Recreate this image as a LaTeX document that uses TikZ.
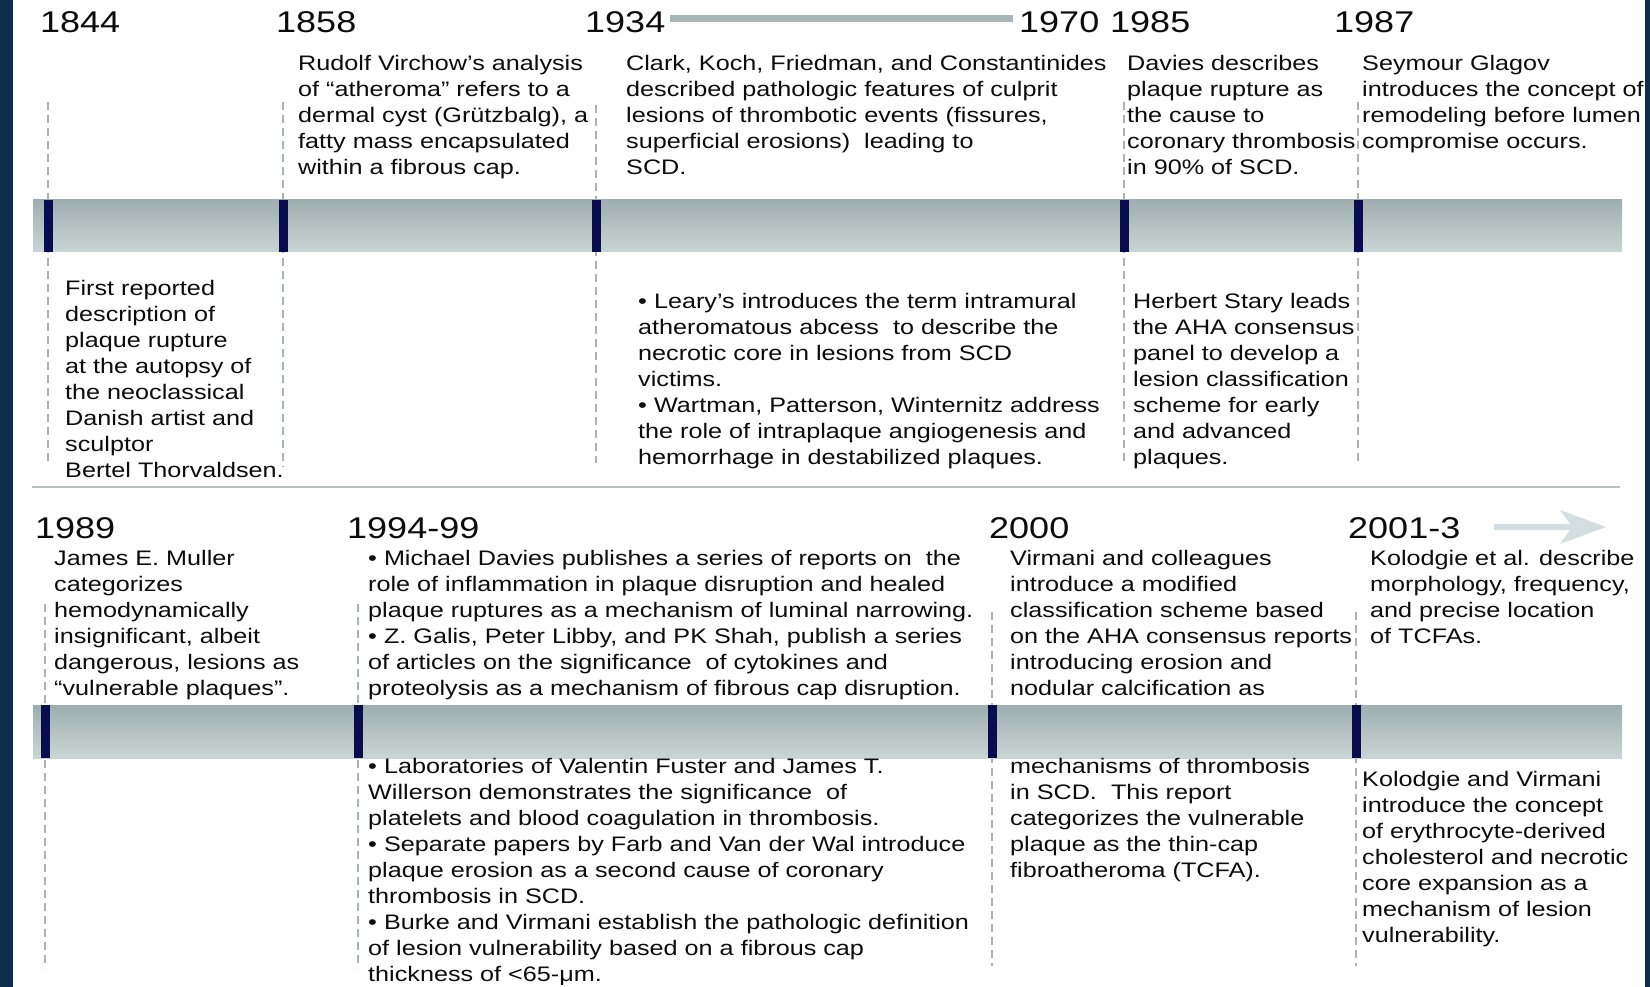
\documentclass[tikz,border=0pt]{standalone}
\usepackage{fontspec}
\setmainfont{Liberation Sans}[FakeStretch=1.2]
\definecolor{navyb}{RGB}{13,45,77}
\definecolor{mk}{RGB}{10,12,80}
\definecolor{bartop}{RGB}{158,174,174}
\definecolor{barbot}{RGB}{202,214,214}
\definecolor{dashgray}{RGB}{170,178,178}
\definecolor{sepgray}{RGB}{182,194,194}
\definecolor{gapgray}{RGB}{168,184,184}
\definecolor{arrowgray}{RGB}{212,222,224}
\definecolor{txt}{RGB}{12,12,12}
\begin{document}
\begin{tikzpicture}[x=1pt,y=-1pt,
  desc/.style={anchor=north west,inner sep=0pt,align=left,text=txt,font=\fontsize{21}{26}\selectfont},
  yr/.style={anchor=base west,inner sep=0pt,text=txt,font=\fontsize{30}{34}\selectfont},
  tickmark/.style={fill=mk,draw=none},
  guide/.style={draw=dashgray,line width=2.6pt,dash pattern=on 8pt off 5pt},
  timebar/.style={draw=none,top color=bartop,bottom color=barbot},
  sepline/.style={draw=sepgray,line width=2.5pt},
  gapline/.style={draw=gapgray,line width=7pt},
]
\useasboundingbox (0,0) rectangle (1650,987);
\fill[white] (0,0) rectangle (1650,987);
\fill[navyb] (0,0) rectangle (13,987);
\fill[navyb] (1645,0) rectangle (1650,987);

% ---------- dashed guide lines, row 1
\coordinate (ga1) at (48,102);   \coordinate (ga2) at (48,466);
\coordinate (gb1) at (283,102);  \coordinate (gb2) at (283,467);
\coordinate (gc1) at (596,105);  \coordinate (gc2) at (596,463);
\coordinate (gd1) at (1124,102); \coordinate (gd2) at (1124,463);
\coordinate (ge1) at (1358,102); \coordinate (ge2) at (1358,463);
\draw[guide] (ga1) -- (ga2);
\draw[guide] (gb1) -- (gb2);
\draw[guide] (gc1) -- (gc2);
\draw[guide] (gd1) -- (gd2);
\draw[guide] (ge1) -- (ge2);
% ---------- dashed guide lines, row 2
\coordinate (gf1) at (45,604);   \coordinate (gf2) at (45,968);
\coordinate (gg1) at (358,604);  \coordinate (gg2) at (358,968);
\coordinate (gh1) at (992,612);  \coordinate (gh2) at (992,966);
\coordinate (gi1) at (1356,612); \coordinate (gi2) at (1356,966);
\draw[guide] (gf1) -- (gf2);
\draw[guide] (gg1) -- (gg2);
\draw[guide] (gh1) -- (gh2);
\draw[guide] (gi1) -- (gi2);

% ---------- bars
\shade[timebar] (33,200) rectangle (1622,252);
\shade[timebar] (33,705) rectangle (1622,758);
% markers row 1
\fill[tickmark] (43.5,200) rectangle (52.5,252);
\fill[tickmark] (278.5,200) rectangle (287.5,252);
\fill[tickmark] (591.5,200) rectangle (600.5,252);
\fill[tickmark] (1119.5,200) rectangle (1128.5,252);
\fill[tickmark] (1353.5,200) rectangle (1362.5,252);
% markers row 2
\fill[tickmark] (40.5,705) rectangle (49.5,758);
\fill[tickmark] (353.5,705) rectangle (362.5,758);
\fill[tickmark] (987.5,705) rectangle (996.5,758);
\fill[tickmark] (1351.5,705) rectangle (1360.5,758);

% separator
\coordinate (s1) at (32,487); \coordinate (s2) at (1620,487);
\draw[sepline] (s1) -- (s2);

% ---------- years
\node[yr] (y1844) at (40,33) {1844};
\node[yr] (y1858) at (276,33) {1858};
\node[yr] (y1934) at (585,33) {1934};
\node[yr] (y1970) at (1019,33) {1970};
\node[yr] (y1985) at (1110,33) {1985};
\node[yr] (y1987) at (1334,33) {1987};
\node[yr] (y1989) at (35,538) {1989};
\node[yr] (y1994) at (347,538) {1994-99};
\node[yr] (y2000) at (989,538) {2000};
\node[yr] (y2001) at (1348,538) {2001-3};

\coordinate (gl1) at (670,19); \coordinate (gl2) at (1013,19);
\draw[gapline] (gl1) -- (gl2);

% arrow after 2001-3
\fill[arrowgray] (1494,524) -- (1570,524) -- (1560,510) -- (1606,527)
  -- (1560,544) -- (1570,530) -- (1494,530) -- cycle;

% ---------- row 1 texts above bar
\node[desc] (t1858) at (298,51.8) {\strut Rudolf Virchow’s analysis\\of “atheroma” refers to a\\dermal cyst (Grützbalg), a\\fatty mass encapsulated\\within a fibrous cap.};
\node[desc] (t1934) at (626,51.8) {\strut Clark, Koch, Friedman, and Constantinides\\described pathologic features of culprit\\lesions of thrombotic events (fissures,\\superficial erosions)\ \ leading to\\SCD.};
\node[desc] (t1985) at (1127,51.8) {\strut Davies describes\\plaque rupture as\\the cause to\\coronary thrombosis\\in 90\% of SCD.};
\node[desc] (t1987) at (1362,51.8) {\strut Seymour Glagov\\introduces the concept of\\remodeling before lumen\\compromise occurs.};

% ---------- row 1 texts below bar
\node[desc] (b1844) at (65,277.3) {\strut First reported\\description of\\plaque rupture\\at the autopsy of\\the neoclassical\\Danish artist and\\sculptor\\Bertel Thorvaldsen.};
\node[desc] (b1934) at (638,289.8) {\strut • Leary’s introduces the term intramural\\atheromatous abcess\ \ to describe the\\necrotic core in lesions from SCD\\victims.\\• Wartman, Patterson, Winternitz address\\the role of intraplaque angiogenesis and\\hemorrhage in destabilized plaques.};
\node[desc] (b1985) at (1133,289.8) {\strut Herbert Stary leads\\the AHA consensus\\panel to develop a\\lesion classification\\scheme for early\\and advanced\\plaques.};

% ---------- row 2 texts above bar
\node[desc] (t1989) at (54,547.3) {\strut James E. Muller\\categorizes\\hemodynamically\\insignificant, albeit\\dangerous, lesions as\\“vulnerable plaques”.};
\node[desc] (t1994) at (368,547.3) {\strut • Michael Davies publishes a series of reports on\ \ the\\role of inflammation in plaque disruption and healed\\plaque ruptures as a mechanism of luminal narrowing.\\• Z. Galis, Peter Libby, and PK Shah, publish a series\\of articles on the significance\ \ of cytokines and\\proteolysis as a mechanism of fibrous cap disruption.};
\node[desc] (t2000) at (1010,547.3) {\strut Virmani and colleagues\\introduce a modified\\classification scheme based\\on the AHA consensus reports\\introducing erosion and\\nodular calcification as};
\node[desc] (t2001) at (1370,547.3) {\strut Kolodgie et al. describe\\morphology, frequency,\\and precise location\\of TCFAs.};

% ---------- row 2 texts below bar
\node[desc] (b1994) at (368,754.8) {\strut • Laboratories of Valentin Fuster and James T.\\Willerson demonstrates the significance\ \ of\\platelets and blood coagulation in thrombosis.\\• Separate papers by Farb and Van der Wal introduce\\plaque erosion as a second cause of coronary\\thrombosis in SCD.\\• Burke and Virmani establish the pathologic definition\\of lesion vulnerability based on a fibrous cap\\thickness of <65-μm.};
\node[desc] (b2000) at (1010,754.8) {\strut mechanisms of thrombosis\\in SCD.\ \ This report\\categorizes the vulnerable\\plaque as the thin-cap\\fibroatheroma (TCFA).};
\node[desc] (b2001) at (1362,768.3) {\strut Kolodgie and Virmani\\introduce the concept\\of erythrocyte-derived\\cholesterol and necrotic\\core expansion as a\\mechanism of lesion\\vulnerability.};
\end{tikzpicture}
\end{document}
